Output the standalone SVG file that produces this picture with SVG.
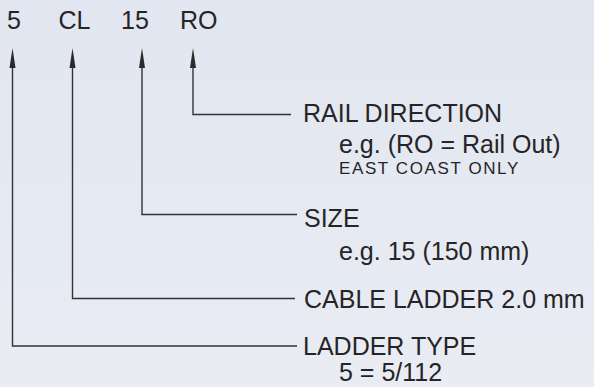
<svg xmlns="http://www.w3.org/2000/svg" width="594" height="387" viewBox="0 0 594 387">
<defs>
<linearGradient id="bg" x1="0" y1="0" x2="0" y2="1">
<stop offset="0" stop-color="#e1e6f0"/>
<stop offset="1" stop-color="#e9ecf3"/>
</linearGradient>
</defs>
<style>
text{font-family:"Liberation Sans",Arial,sans-serif;fill:#262426;font-size:25px}
.sm{font-size:17px;letter-spacing:1.6px}
.ln{fill:none;stroke:#333;stroke-width:1.4}
.ah{fill:#2a2a2a}
</style>
<rect width="594" height="387" fill="url(#bg)"/>
<g id="codes">
<text x="7" y="29">5</text>
<text x="58.5" y="29">CL</text>
<text x="121" y="29">15</text>
<text x="180" y="29">RO</text>
</g>
<g id="connectors">
<path class="ln" d="M193,68 V114.5 H291"/>
<path class="ln" d="M142,68 V214.5 H297"/>
<path class="ln" d="M72.5,68 V298.5 H295"/>
<path class="ln" d="M12.5,68 V346 H297"/>
<path class="ah" d="M193,48 L190,68 L196,68 Z"/>
<path class="ah" d="M142,48 L139,68 L145,68 Z"/>
<path class="ah" d="M72.5,48 L69.5,68 L75.5,68 Z"/>
<path class="ah" d="M12.5,48 L9.5,68 L15.5,68 Z"/>
</g>
<g id="rail-direction">
<text x="303" y="122">RAIL DIRECTION</text>
<text x="339" y="153">e.g. (RO = Rail Out)</text>
<text class="sm" x="339" y="174">EAST COAST ONLY</text>
</g>
<g id="size">
<text x="304" y="227">SIZE</text>
<text x="339" y="260">e.g. 15 (150 mm)</text>
</g>
<g id="cable-ladder">
<text x="304" y="308">CABLE LADDER 2.0 mm</text>
</g>
<g id="ladder-type">
<text x="303" y="355">LADDER TYPE</text>
<text x="339" y="381">5 = 5/112</text>
</g>
</svg>
